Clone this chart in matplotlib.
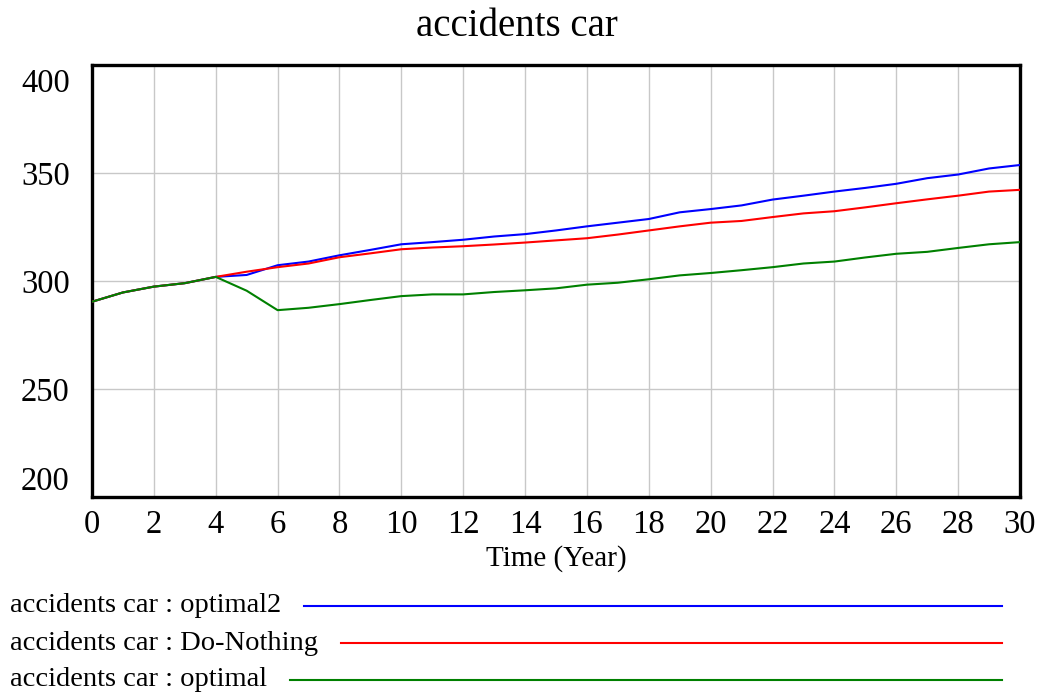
import matplotlib
matplotlib.use("Agg")
import matplotlib.pyplot as plt
from matplotlib.lines import Line2D
from matplotlib.transforms import ScaledTranslation

years = list(range(0, 31))
optimal2 = [290.4, 294.7, 297.4, 299.0, 301.9, 302.8, 307.3, 309.0, 311.9, 314.4,
            317.0, 318.0, 319.1, 320.6, 321.7, 323.4, 325.3, 327.0, 328.7, 331.8,
            333.3, 335.0, 337.7, 339.5, 341.4, 343.1, 345.0, 347.6, 349.3, 352.1, 353.7]
do_nothing = [290.4, 294.7, 297.4, 299.0, 301.9, 304.3, 306.4, 308.1, 311.0, 312.8,
              314.7, 315.5, 316.1, 316.9, 317.8, 318.8, 319.8, 321.5, 323.4, 325.3,
              327.0, 327.8, 329.6, 331.3, 332.3, 334.1, 336.0, 337.8, 339.5, 341.4, 342.2]
optimal = [290.4, 294.7, 297.4, 299.0, 301.9, 295.5, 286.5, 287.6, 289.3, 291.2,
           293.0, 293.8, 293.8, 294.9, 295.7, 296.6, 298.3, 299.2, 300.8, 302.6,
           303.7, 305.0, 306.4, 308.1, 309.0, 310.9, 312.6, 313.5, 315.3, 317.0, 318.0]

series_labels = ["accidents car : optimal2", "accidents car : Do-Nothing", "accidents car : optimal"]
series_colors = ["#0000ff", "#ff0000", "#008000"]
title = "accidents car"
xlabel = "Time (Year)"
xticks = list(range(0, 31, 2))
yticks = [200, 250, 300, 350, 400]

plt.rcParams['font.family'] = ['Liberation Serif', 'DejaVu Serif']

W, H = 1043, 699
fig = plt.figure(figsize=(W / 100, H / 100), dpi=100)
ax = fig.add_axes([92 / W, 1 - 497 / H, (1020 - 92) / W, (497 - 65) / H])

for vals, c in zip([optimal2, do_nothing, optimal], series_colors):
    ax.plot(years, vals, color=c, lw=1.5, zorder=3)

ax.set_xlim(0, 30)
ax.set_ylim(200, 400)
ax.set_xticks(xticks)
ax.set_yticks(yticks)
ax.grid(True, color="#c8c8c8", lw=1.0, zorder=0)
ax.tick_params(length=0, labelsize=23.5)
ax.tick_params(axis='x', pad=9)
ax.tick_params(axis='y', pad=16)
for s in ax.spines.values():
    s.set_linewidth(2.4)
    s.set_color("black")

ax.set_xlabel(xlabel, fontsize=21, va='center')
ax.xaxis.set_label_coords(0.5, (497 - 559) / 432)
fig.text(517 / W, 1 - 26 / H, title, ha='center', va='center', fontsize=28)

fig.canvas.draw()
yt = ax.yaxis.get_major_ticks()
yt[0].label1.set_verticalalignment('bottom')
yt[-1].label1.set_verticalalignment('top')
yt[-1].label1.set_transform(yt[-1].label1.get_transform()
                            + ScaledTranslation(0, -4 / 100, fig.dpi_scale_trans))

renderer = fig.canvas.get_renderer()
rows_y = [606, 643, 680]
for lab, c, yy in zip(series_labels, series_colors, rows_y):
    t = fig.text(10 / W, 1 - yy / H, lab, ha='left', va='center', fontsize=20.5)
    bb = t.get_window_extent(renderer)
    x0 = bb.x1 + 23
    fig.add_artist(Line2D([x0 / W, 1002 / W], [1 - yy / H, 1 - yy / H],
                          color=c, lw=1.5, transform=fig.transFigure))

fig.savefig("out.png", dpi=100)
